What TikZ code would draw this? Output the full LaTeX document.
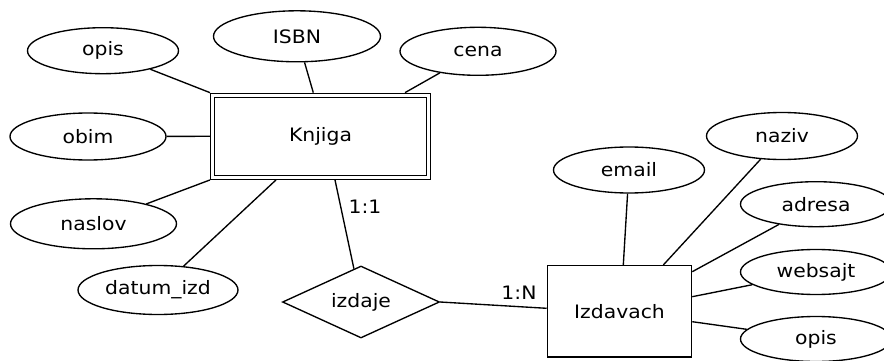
\documentclass[tikz,border=0pt]{standalone}
\usepackage{fontspec}
\setmainfont{DejaVu Sans}[FakeStretch=1.1]
\usetikzlibrary{shapes.geometric}
\begin{document}
\begin{tikzpicture}[x=1pt, y=-1pt, line width=1.35pt,
    font=\fontsize{18.5}{21}\selectfont,
    attr/.style={ellipse, draw, inner sep=0pt},
    entity/.style={rectangle, draw, inner sep=0pt},
    weakentity/.style={rectangle, draw, double, line width=1.2pt, double distance=3pt,
                       inner sep=0pt, outer sep=2.7pt},
    relation/.style={diamond, draw, aspect=2, inner sep=0pt},
    card/.style={inner sep=0pt},
    link/.style={draw}]
  \useasboundingbox (0,0) rectangle (884,361);

  % entities
  \node[weakentity, minimum width=215.6pt, minimum height=81.9pt] (knjiga) at (320.5,136.3) {Knjiga};
  \node[entity, minimum width=144.2pt, minimum height=91.3pt] (izdavach) at (619.5,311.3) {Izdavach};

  % relationship
  \node[relation, minimum width=157pt, minimum height=72pt] (izdaje) at (361,302) {izdaje};

  % attributes of Knjiga
  \node[attr, minimum width=151pt, minimum height=46pt] (opisK) at (103,50.7) {opis};
  \node[attr, minimum width=167pt, minimum height=51pt] (isbn) at (297,36.3) {ISBN};
  \node[attr, minimum width=156pt, minimum height=48pt] (cena) at (478,51.3) {cena};
  \node[attr, minimum width=156pt, minimum height=47pt] (obim) at (88,136.5) {obim};
  \node[attr, minimum width=166pt, minimum height=50pt] (naslov) at (93.5,223.8) {naslov};
  \node[attr, minimum width=160pt, minimum height=49pt] (datum) at (158,290) {datum\_izd};

  % attributes of Izdavach
  \node[attr, minimum width=151pt, minimum height=46pt] (email) at (629,170) {email};
  \node[attr, minimum width=151pt, minimum height=47pt] (naziv) at (782,136) {naziv};
  \node[attr, minimum width=151pt, minimum height=45pt] (adresa) at (816,204.2) {adresa};
  \node[attr, minimum width=151pt, minimum height=45pt] (websajt) at (816,272) {websajt};
  \node[attr, minimum width=151pt, minimum height=45pt] (opisI) at (816,339) {opis};

  % attribute links
  \draw[link] (opisK) -- (knjiga.north west);
  \draw[link] (isbn) -- ([xshift=-7.2pt]knjiga.north);
  \draw[link] (cena) -- ([xshift=84.5pt]knjiga.north);
  \draw[link] (obim) -- (knjiga.west);
  \draw[link] (naslov) -- (knjiga.south west);
  \draw[link] (datum) -- ([xshift=-44.5pt]knjiga.south);

  \draw[link] (email) -- ([xshift=3.8pt]izdavach.north);
  \draw[link] (naziv) -- ([xshift=43.8pt]izdavach.north);
  \draw[link] (adresa) -- ([yshift=39.6pt]izdavach.east);
  \draw[link] (websajt) -- ([yshift=14.6pt]izdavach.east);
  \draw[link] (opisI) -- ([yshift=-10.4pt]izdavach.east);

  % relationship links with cardinalities
  \draw[link] ([xshift=14.5pt]knjiga.south) -- (izdaje);
  \draw[link] (izdaje.east) -- ([yshift=3pt]izdavach.west);
  \node[card] (c11) at (365,207) {1:1};
  \node[card] (c1n) at (519,292.5) {1:N};
\end{tikzpicture}
\end{document}
